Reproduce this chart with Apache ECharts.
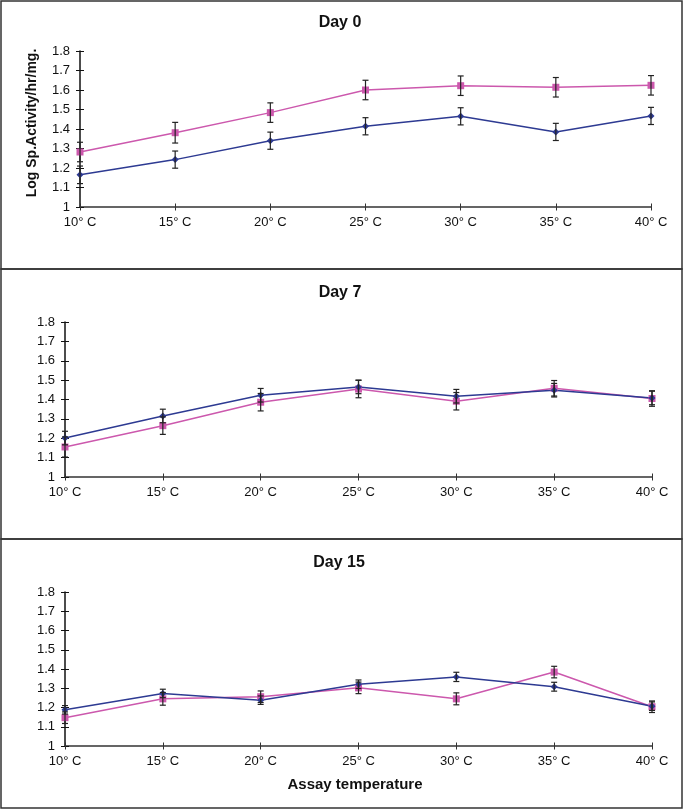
<!DOCTYPE html>
<html>
<head>
<meta charset="utf-8">
<script src="https://cdn.jsdelivr.net/npm/echarts@6/dist/echarts.min.js"></script>
<style>
html,body{margin:0;padding:0;background:#fff;}
#c{width:685px;height:810px;}
</style>
</head>
<body>
<div id="c"></div>
<script>
const temps = ['10° C','15° C','20° C','25° C','30° C','35° C','40° C'];
const panelTitles = ['Day 0','Day 7','Day 15'];

const day0Blue = [1.165,1.243,1.340,1.414,1.465,1.385,1.467];
const day0BlueErr = [0.045,0.044,0.044,0.044,0.044,0.044,0.044];
const day0Pink = [1.282,1.381,1.484,1.600,1.622,1.614,1.624];
const day0PinkErr = [0.05,0.053,0.05,0.05,0.05,0.05,0.05];

const day7Blue = [1.201,1.315,1.422,1.465,1.417,1.448,1.408];
const day7BlueErr = [0.035,0.035,0.035,0.035,0.035,0.035,0.035];
const day7Pink = [1.155,1.265,1.386,1.454,1.391,1.458,1.405];
const day7PinkErr = [0.052,0.045,0.045,0.045,0.045,0.04,0.04];

const day15Blue = [1.188,1.273,1.238,1.321,1.359,1.308,1.207];
const day15BlueErr = [0.022,0.022,0.022,0.022,0.024,0.023,0.022];
const day15Pink = [1.147,1.245,1.256,1.302,1.245,1.384,1.204];
const day15PinkErr = [0.03,0.033,0.03,0.03,0.031,0.03,0.03];

const blueSeries = [day0Blue, day7Blue, day15Blue];
const blueErrs = [day0BlueErr, day7BlueErr, day15BlueErr];
const pinkSeries = [day0Pink, day7Pink, day15Pink];
const pinkErrs = [day0PinkErr, day7PinkErr, day15PinkErr];

const BLUE = '#2d3a92';
const PINK = '#cc58ad';
const FONT = 'Liberation Sans, Arial, sans-serif';

const grids = [
  {left: 80, right: 34, top: 51, height: 156},
  {left: 65, right: 33, top: 322, height: 155},
  {left: 65, right: 33, top: 592, height: 154}
];

const xAxes = [], yAxes = [], series = [];
grids.forEach((g, i) => {
  const baseX = {
    type: 'category', gridIndex: i, data: temps, boundaryGap: false, position: 'bottom', offset: 0,
    axisLine: {show: true, onZero: false, lineStyle: {color: '#333', width: 1.5}},
    splitLine: {show: false}
  };
  xAxes.push(Object.assign({}, baseX, {
    axisTick: {show: true, alignWithLabel: true, length: 3.5, lineStyle: {color: '#333', width: 1}},
    axisLabel: {color: '#111', fontFamily: FONT, fontSize: 13, margin: 9}
  }));
  xAxes.push(Object.assign({}, baseX, {
    axisLine: {show: false, onZero: false},
    axisTick: {show: true, inside: true, length: 3.5, lineStyle: {color: '#333', width: 1}},
    axisLabel: {show: false}
  }));
  const baseY = {
    type: 'value', gridIndex: i, min: 1, max: 1.8, interval: 0.1, position: 'left', offset: 0,
    splitLine: {show: false},
    axisLine: {show: true, onZero: false, lineStyle: {color: '#111', width: 1.5}}
  };
  yAxes.push(Object.assign({}, baseY, {
    axisTick: {show: true, length: 4, lineStyle: {color: '#111', width: 1}},
    axisLabel: {color: '#111', fontFamily: FONT, fontSize: 13, margin: 10,
      formatter: v => String(Math.round(v * 10) / 10)}
  }));
  yAxes.push(Object.assign({}, baseY, {
    axisLine: {show: false, onZero: false},
    axisTick: {show: true, inside: true, length: 4, lineStyle: {color: '#111', width: 1}},
    axisLabel: {show: false}
  }));

  const xi = i * 2, yi = i * 2;
  series.push({
    type: 'line', xAxisIndex: xi, yAxisIndex: yi, data: pinkSeries[i],
    symbol: 'rect', symbolSize: 7, showSymbol: true,
    lineStyle: {color: PINK, width: 1.5}, itemStyle: {color: PINK},
    z: 3, animation: false
  });
  series.push({
    type: 'line', xAxisIndex: xi, yAxisIndex: yi, data: blueSeries[i],
    symbol: 'diamond', symbolSize: 7, showSymbol: true,
    lineStyle: {color: BLUE, width: 1.5}, itemStyle: {color: BLUE},
    z: 3, animation: false
  });
  [[blueSeries[i], blueErrs[i]], [pinkSeries[i], pinkErrs[i]]].forEach(([vals, errs]) => {
    series.push({
      type: 'custom', xAxisIndex: xi, yAxisIndex: yi, z: 4, animation: false,
      data: vals.map((v, k) => [k, v, errs[k]]),
      renderItem: function (params, api) {
        const k = api.value(0), v = api.value(1), e = api.value(2);
        const top = api.coord([k, v + e]);
        const bot = api.coord([k, v - e]);
        const w = 3;
        const st = {stroke: '#222', lineWidth: 1.2};
        return {
          type: 'group', children: [
            {type: 'line', shape: {x1: top[0], y1: top[1], x2: bot[0], y2: bot[1]}, style: st},
            {type: 'line', shape: {x1: top[0] - w, y1: top[1], x2: top[0] + w, y2: top[1]}, style: st},
            {type: 'line', shape: {x1: bot[0] - w, y1: bot[1], x2: bot[0] + w, y2: bot[1]}, style: st}
          ]
        };
      }
    });
  });
});

const graphics = [
  {type: 'rect', shape: {x: 1, y: 1, width: 681, height: 268}, style: {fill: 'none', stroke: '#333', lineWidth: 1.5}, silent: true},
  {type: 'rect', shape: {x: 1, y: 269, width: 681, height: 270}, style: {fill: 'none', stroke: '#333', lineWidth: 1.5}, silent: true},
  {type: 'rect', shape: {x: 1, y: 539, width: 681, height: 269}, style: {fill: 'none', stroke: '#333', lineWidth: 1.5}, silent: true},
  {type: 'text', x: 340, y: 23, style: {text: panelTitles[0], font: 'bold 16px ' + FONT, fill: '#111', textAlign: 'center', textVerticalAlign: 'middle'}},
  {type: 'text', x: 340, y: 293, style: {text: panelTitles[1], font: 'bold 16px ' + FONT, fill: '#111', textAlign: 'center', textVerticalAlign: 'middle'}},
  {type: 'text', x: 339, y: 563, style: {text: panelTitles[2], font: 'bold 16px ' + FONT, fill: '#111', textAlign: 'center', textVerticalAlign: 'middle'}},
  {type: 'text', x: 32, y: 123, rotation: Math.PI / 2, style: {text: 'Log Sp.Activity/hr/mg.', font: 'bold 14px ' + FONT, fill: '#111', textAlign: 'center', textVerticalAlign: 'middle'}},
  {type: 'text', x: 355, y: 785, style: {text: 'Assay temperature', font: 'bold 15px ' + FONT, fill: '#111', textAlign: 'center', textVerticalAlign: 'middle'}}
];

const chart = echarts.init(document.getElementById('c'));
chart.setOption({
  animation: false,
  backgroundColor: '#fff',
  grid: grids,
  xAxis: xAxes,
  yAxis: yAxes,
  series: series,
  graphic: graphics
});
</script>
</body>
</html>
